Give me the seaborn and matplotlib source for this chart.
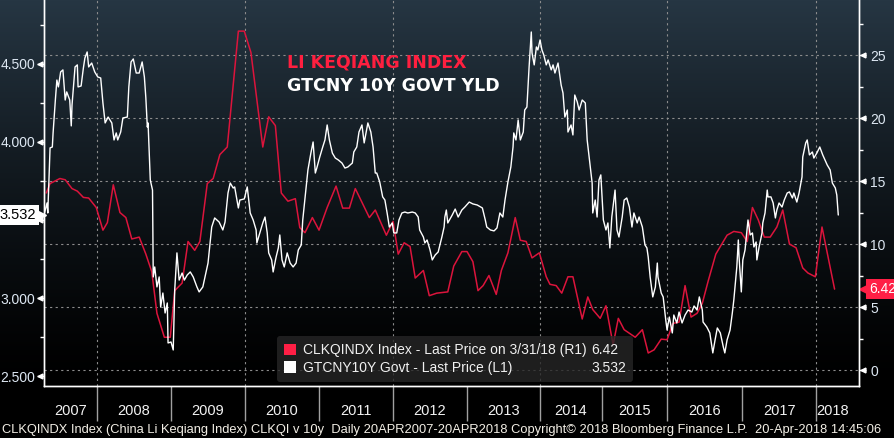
import numpy as np
import pandas as pd
import seaborn as sns
import matplotlib.pyplot as plt
from matplotlib import transforms
from matplotlib.patches import Patch

sns.set_theme(style="ticks")
plt.rcParams["font.family"] = ["Liberation Sans", "DejaVu Sans"]

RED = "#dc143c"
RED_TAG = "#ff1f45"
TICK_TXT = "#dde7f2"

# --------------------------------------
# data
# --------------------------------------

# Li Keqiang index (monthly, right axis)
red_years = [
    2007.33, 2007.38, 2007.51, 2007.58, 2007.67, 2007.74, 2007.82, 2007.89, 2007.99, 2008.08,
    2008.14, 2008.22, 2008.31, 2008.39, 2008.47, 2008.57, 2008.66, 2008.74, 2008.81, 2008.91,
    2008.99, 2009.05, 2009.15, 2009.23, 2009.32, 2009.39, 2009.49, 2009.57, 2009.66, 2009.76,
    2009.91, 2009.99, 2010.08, 2010.24, 2010.32, 2010.41, 2010.49, 2010.58, 2010.68, 2010.74,
    2010.81, 2010.91, 2011.00, 2011.11, 2011.23, 2011.32, 2011.41, 2011.49, 2011.68, 2011.76,
    2011.91, 2012.00, 2012.07, 2012.15, 2012.23, 2012.30, 2012.41, 2012.49, 2012.59, 2012.74,
    2012.82, 2012.93, 2013.00, 2013.08, 2013.15, 2013.22, 2013.30, 2013.40, 2013.47, 2013.56,
    2013.66, 2013.73, 2013.81, 2013.89, 2013.99, 2014.10, 2014.16, 2014.26, 2014.35, 2014.45,
    2014.53, 2014.68, 2014.77, 2014.85, 2014.97, 2015.06, 2015.17, 2015.25, 2015.34, 2015.51,
    2015.62, 2015.71, 2015.80, 2015.91, 2016.00, 2016.08, 2016.16, 2016.24, 2016.32, 2016.40,
    2016.47, 2016.55, 2016.65, 2016.80, 2016.89, 2016.99, 2017.07, 2017.14, 2017.22, 2017.30,
    2017.38, 2017.47, 2017.55, 2017.64, 2017.73, 2017.82, 2017.89, 2017.99, 2018.08, 2018.25,
]
red_values = [
    14.05, 14.8, 15.2, 15.1, 14.4, 14.2, 13.7, 13.65, 12.9, 11.1,
    11.7, 14.7, 12.5, 12.1, 10.4, 10.55, 9.2, 7.8, 4.5, 2.6,
    2.6, 6.3, 6.9, 10.2, 9.5, 10.2, 14.8, 15.2, 17.1, 17.7,
    26.9, 26.9, 25.2, 17.7, 20.1, 19.4, 14.05, 13.4, 13.6, 11.3,
    10.9, 12.1, 11.1, 12.9, 14.6, 12.85, 12.85, 14.4, 12.1, 12.7,
    10.7, 11.8, 9.2, 10.1, 9.8, 7.3, 7.9, 5.9, 6.1, 6.2,
    8.25, 9.4, 9.4, 8.6, 6.3, 6.7, 7.5, 6.0, 7.9, 9.3,
    12.1, 10.3, 10.2, 8.9, 9.3, 7.4, 6.8, 6.7, 6.1, 7.4,
    7.4, 4.05, 5.8, 4.8, 4.1, 5.1, 2.0, 4.1, 3.2, 2.6,
    3.2, 1.35, 1.6, 2.45, 2.4, 3.7, 3.8, 6.7, 4.2, 4.5,
    5.3, 7.1, 9.2, 10.7, 11.0, 10.9, 10.2, 12.9, 11.9, 10.55,
    10.55, 11.35, 12.7, 10.0, 9.7, 8.1, 7.7, 7.4, 11.35, 6.42,
]

# China 10y govt yield (left axis)
white_years = [
    2007.30, 2007.34, 2007.35, 2007.38, 2007.41, 2007.42, 2007.45, 2007.47, 2007.49, 2007.52,
    2007.55, 2007.58, 2007.60, 2007.64, 2007.66, 2007.67, 2007.71, 2007.74, 2007.75, 2007.79,
    2007.82, 2007.84, 2007.87, 2007.89, 2007.93, 2007.97, 2008.01, 2008.05, 2008.08, 2008.11,
    2008.15, 2008.20, 2008.23, 2008.26, 2008.28, 2008.32, 2008.35, 2008.41, 2008.43, 2008.46,
    2008.49, 2008.53, 2008.57, 2008.61, 2008.64, 2008.66, 2008.68, 2008.69, 2008.72, 2008.75,
    2008.76, 2008.78, 2008.81, 2008.84, 2008.86, 2008.89, 2008.92, 2008.95, 2008.96, 2009.00,
    2009.03, 2009.05, 2009.08, 2009.11, 2009.15, 2009.18, 2009.22, 2009.26, 2009.30, 2009.35,
    2009.38, 2009.43, 2009.47, 2009.50, 2009.55, 2009.59, 2009.65, 2009.70, 2009.73, 2009.77,
    2009.80, 2009.84, 2009.86, 2009.91, 2009.93, 2009.99, 2010.03, 2010.07, 2010.11, 2010.15,
    2010.16, 2010.20, 2010.24, 2010.27, 2010.30, 2010.32, 2010.36, 2010.38, 2010.42, 2010.45,
    2010.47, 2010.50, 2010.53, 2010.57, 2010.61, 2010.65, 2010.69, 2010.72, 2010.76, 2010.78,
    2010.82, 2010.85, 2010.89, 2010.92, 2010.95, 2010.97, 2011.01, 2011.05, 2011.08, 2011.11,
    2011.14, 2011.18, 2011.22, 2011.26, 2011.31, 2011.35, 2011.39, 2011.45, 2011.47, 2011.51,
    2011.54, 2011.58, 2011.61, 2011.65, 2011.66, 2011.70, 2011.73, 2011.76, 2011.78, 2011.82,
    2011.86, 2011.89, 2011.92, 2011.95, 2011.99, 2012.01, 2012.05, 2012.08, 2012.12, 2012.16,
    2012.20, 2012.26, 2012.30, 2012.34, 2012.36, 2012.41, 2012.43, 2012.46, 2012.50, 2012.53,
    2012.57, 2012.61, 2012.66, 2012.69, 2012.70, 2012.72, 2012.74, 2012.80, 2012.84, 2012.88,
    2012.93, 2012.97, 2013.03, 2013.08, 2013.14, 2013.21, 2013.25, 2013.27, 2013.32, 2013.37,
    2013.41, 2013.45, 2013.49, 2013.52, 2013.56, 2013.60, 2013.63, 2013.64, 2013.67, 2013.70,
    2013.73, 2013.77, 2013.79, 2013.82, 2013.85, 2013.88, 2013.89, 2013.92, 2013.95, 2013.97,
    2014.00, 2014.03, 2014.06, 2014.10, 2014.13, 2014.18, 2014.21, 2014.24, 2014.29, 2014.34,
    2014.37, 2014.40, 2014.44, 2014.45, 2014.50, 2014.53, 2014.56, 2014.60, 2014.63, 2014.68,
    2014.73, 2014.76, 2014.81, 2014.84, 2014.85, 2014.89, 2014.92, 2014.95, 2014.98, 2015.02,
    2015.06, 2015.09, 2015.12, 2015.15, 2015.20, 2015.23, 2015.26, 2015.31, 2015.34, 2015.38,
    2015.42, 2015.46, 2015.49, 2015.54, 2015.57, 2015.62, 2015.66, 2015.68, 2015.69, 2015.71,
    2015.74, 2015.78, 2015.82, 2015.85, 2015.86, 2015.91, 2015.94, 2015.98, 2016.00, 2016.03,
    2016.07, 2016.09, 2016.13, 2016.16, 2016.20, 2016.24, 2016.28, 2016.33, 2016.36, 2016.40,
    2016.43, 2016.47, 2016.48, 2016.53, 2016.57, 2016.61, 2016.64, 2016.67, 2016.71, 2016.75,
    2016.77, 2016.80, 2016.84, 2016.87, 2016.89, 2016.91, 2016.93, 2016.95, 2016.96, 2016.99,
    2017.01, 2017.04, 2017.07, 2017.08, 2017.11, 2017.14, 2017.16, 2017.19, 2017.20, 2017.23,
    2017.27, 2017.28, 2017.31, 2017.34, 2017.35, 2017.39, 2017.42, 2017.45, 2017.47, 2017.50,
    2017.54, 2017.57, 2017.61, 2017.64, 2017.68, 2017.70, 2017.74, 2017.77, 2017.81, 2017.82,
    2017.86, 2017.88, 2017.91, 2017.95, 2017.97, 2018.01, 2018.05, 2018.09, 2018.12, 2018.15,
    2018.19, 2018.22, 2018.26, 2018.28, 2018.30,
]
white_yield = [
    3.532, 3.609, 3.545, 3.962, 3.968, 4.058, 4.269, 4.397, 4.353, 4.449,
    4.462, 4.269, 4.321, 4.269, 4.103, 4.237, 4.481, 4.494, 4.353, 4.359,
    4.474, 4.538, 4.577, 4.481, 4.506, 4.449, 4.417, 4.410, 4.250, 4.122,
    4.160, 4.122, 4.013, 4.058, 4.013, 4.064, 4.154, 4.160, 4.353, 4.513,
    4.532, 4.442, 4.442, 4.513, 4.417, 4.282, 4.096, 4.122, 3.756, 3.692,
    3.135, 3.199, 3.071, 3.135, 2.942, 3.032, 2.904, 2.968, 2.712, 2.718,
    2.667, 3.051, 3.289, 3.115, 3.160, 3.115, 3.148, 3.167, 3.135, 3.071,
    3.039, 3.071, 3.160, 3.224, 3.455, 3.513, 3.487, 3.436, 3.487, 3.673,
    3.737, 3.705, 3.712, 3.577, 3.628, 3.635, 3.712, 3.545, 3.500, 3.436,
    3.353, 3.417, 3.481, 3.519, 3.417, 3.289, 3.244, 3.167, 3.263, 3.321,
    3.404, 3.244, 3.199, 3.289, 3.224, 3.199, 3.224, 3.308, 3.340, 3.500,
    3.680, 3.821, 3.929, 4.000, 3.801, 3.833, 3.904, 3.968, 4.013, 4.109,
    4.013, 3.929, 3.897, 3.885, 3.865, 3.833, 3.840, 3.865, 3.936, 3.968,
    4.064, 4.109, 3.994, 4.096, 4.122, 4.064, 3.968, 3.801, 3.801, 3.744,
    3.648, 3.628, 3.545, 3.455, 3.481, 3.417, 3.417, 3.500, 3.545, 3.551,
    3.545, 3.551, 3.545, 3.519, 3.436, 3.391, 3.353, 3.372, 3.308, 3.244,
    3.276, 3.295, 3.391, 3.455, 3.519, 3.564, 3.481, 3.532, 3.570, 3.519,
    3.564, 3.583, 3.615, 3.603, 3.596, 3.577, 3.500, 3.455, 3.436, 3.430,
    3.449, 3.545, 3.519, 3.628, 3.744, 3.840, 3.968, 4.058, 4.013, 4.141,
    4.013, 4.064, 4.205, 4.224, 4.481, 4.705, 4.571, 4.494, 4.609, 4.590,
    4.654, 4.590, 4.558, 4.494, 4.526, 4.462, 4.494, 4.442, 4.506, 4.365,
    4.314, 4.160, 4.205, 4.064, 4.109, 4.045, 4.301, 4.257, 4.205, 4.269,
    4.250, 4.013, 3.840, 3.737, 3.545, 3.628, 3.519, 3.756, 3.789, 3.500,
    3.436, 3.481, 3.321, 3.519, 3.692, 3.436, 3.391, 3.519, 3.628, 3.641,
    3.583, 3.455, 3.545, 3.481, 3.519, 3.455, 3.340, 3.327, 3.321, 3.263,
    3.135, 3.007, 3.071, 3.224, 3.135, 3.032, 3.007, 2.859, 2.795, 2.878,
    2.776, 2.891, 2.840, 2.910, 2.840, 2.891, 2.923, 2.910, 2.949, 2.923,
    3.007, 2.923, 2.846, 2.814, 2.776, 2.648, 2.731, 2.808, 2.776, 2.686,
    2.648, 2.731, 2.795, 2.904, 2.987, 3.096, 3.199, 3.372, 3.263, 3.039,
    3.244, 3.308, 3.455, 3.500, 3.404, 3.417, 3.327, 3.359, 3.244, 3.327,
    3.417, 3.481, 3.545, 3.692, 3.648, 3.648, 3.609, 3.513, 3.564, 3.609,
    3.583, 3.628, 3.673, 3.680, 3.641, 3.673, 3.615, 3.673, 3.776, 3.904,
    3.994, 4.013, 3.917, 3.936, 3.897, 3.929, 3.968, 3.917, 3.885, 3.853,
    3.821, 3.737, 3.705, 3.660, 3.532,
]

year_labels = [str(y) for y in range(2007, 2019)]
year_label_pos = [2007.65] + [y + 0.5 for y in range(2008, 2018)] + [2018.22]
year_bounds = list(range(2008, 2019))

# Bloomberg's time axis is not perfectly even (2014/15 are squeezed)
knot_years = [2000, 2007.3, 2008, 2009, 2010, 2011, 2012, 2013, 2014, 2015, 2016, 2017, 2018, 2030]
knot_pos = [-509, 44, 97, 171, 245, 319, 393, 467, 540, 602, 667, 742, 816, 1704]


def to_axis(x):
    return np.interp(x, knot_years, knot_pos)


def from_axis(p):
    return np.interp(p, knot_pos, knot_years)


red_df = pd.DataFrame({"year": red_years, "value": red_values})
white_df = pd.DataFrame({"year": white_years, "value": white_yield})

# --------------------------------------
# figure + gradient background
# --------------------------------------
fig = plt.figure(figsize=(8.95, 4.38), dpi=100, facecolor="black")

bg = fig.add_axes([0, 0, 1, 1], zorder=-10)
bg.set_axis_off()
rows = np.linspace(0, 1, 438)[:, None]
fade = np.clip(1 - rows / (386 / 438), 0, 1) ** 1.3
top_col = np.array([38, 54, 67]) / 255
bg.imshow(fade[..., None] * top_col, aspect="auto", extent=[0, 1, 0, 1])

ax = fig.add_axes([44 / 895, 52 / 438, 815 / 895, 386 / 438])
ax.set_facecolor("none")
ax.set_xscale("function", functions=(to_axis, from_axis))

sns.lineplot(data=red_df, x="year", y="value", ax=ax, color=RED, lw=1.1, estimator=None)

ax_w = ax.twinx()
sns.lineplot(data=white_df, x="year", y="value", ax=ax_w, color="white", lw=1.0, estimator=None)

ax.set_xlim(2007.30, 2018.58)
ax.set_ylim(-1.27, 29.37)
ax_w.set_ylim(2.436, 4.910)
for a in (ax, ax_w):
    a.set_xlabel("")
    a.set_ylabel("")
    a.spines["top"].set_visible(False)
    for s in ("left", "right", "bottom"):
        a.spines[s].set_color("white")
        a.spines[s].set_linewidth(1)

# right axis = index
ax.yaxis.tick_right()
ax.set_yticks(range(0, 30, 5))
ax.set_yticks(np.arange(2.5, 29, 5), minor=True)
ax.tick_params(axis="y", which="major", length=5, width=1, color="white", pad=3,
               labelsize=10, labelcolor=TICK_TXT, right=True, left=False)
ax.tick_params(axis="y", which="minor", length=3, width=1, color="white", right=True, left=False)

# left axis = yield
ax_w.yaxis.tick_left()
ax_w.set_yticks(np.arange(2.5, 4.51, 0.5))
ax_w.set_yticklabels([f"{v:.3f}" for v in np.arange(2.5, 4.51, 0.5)])
ax_w.set_yticks(np.arange(2.75, 4.8, 0.5), minor=True)
ax_w.tick_params(axis="y", which="major", length=5, width=1, color="white", pad=1.5,
                 labelsize=10, labelcolor=TICK_TXT, left=True, right=False)
ax_w.tick_params(axis="y", which="minor", length=3, width=1, color="white", left=True, right=False)

# little arrow heads on the major ticks
tl = transforms.blended_transform_factory(ax_w.transAxes, ax_w.transData)
tr = transforms.blended_transform_factory(ax.transAxes, ax.transData)
ax_w.plot([-0.005] * 5, np.arange(2.5, 4.51, 0.5), ls="none", marker="<", ms=3.5,
          color="white", transform=tl, clip_on=False)
ax.plot([1.005] * 6, range(0, 30, 5), ls="none", marker="<", ms=3.5,
        color="white", transform=tr, clip_on=False)

# x axis: long year separators, labels centred in each year
ax.set_xticks(year_bounds)
ax.set_xticklabels([])
ax.set_xticks(year_label_pos, labels=year_labels, minor=True)
ax.tick_params(axis="x", which="major", length=25.5, width=1, color="#a0a0a0", bottom=True)
ax.tick_params(axis="x", which="minor", length=0, pad=13, labelsize=10.5,
               labelcolor="#f2f2f2", bottom=True)

# dotted grid
ax.set_axisbelow(True)
ax.grid(True, axis="y", which="major", color="#8c8c8c", ls=(0, (2, 3)), lw=0.8)
ax.grid(False, axis="x")
for y in range(2008, 2019, 2):
    ax.axvline(y, color="#8c8c8c", ls=(0, (2, 3)), lw=0.8, zorder=0.5)

# last value tags
ax_w.text(-0.0095, white_yield[-1], f"{white_yield[-1]:.3f}", transform=tl, ha="right",
          va="center", fontsize=10.5, color="black", zorder=10, clip_on=False,
          bbox=dict(boxstyle="square,pad=0.2", fc="white", ec="none"))
ax_w.plot([-0.004], [white_yield[-1]], marker=">", ms=7, color="white", transform=tl,
          clip_on=False, zorder=10)
ax.text(1.0125, red_values[-1], f"{red_values[-1]:.2f}", transform=tr, ha="left",
        va="center", fontsize=10, color="white", zorder=10, clip_on=False,
        bbox=dict(boxstyle="square,pad=0.2", fc=RED_TAG, ec="none"))
ax.plot([1.0060], [red_values[-1]], marker="<", ms=7, color=RED_TAG, transform=tr,
        clip_on=False, zorder=10)

# legend
handles = [Patch(fc=RED_TAG, ec="none"), Patch(fc="white", ec="none"),
           Patch(fc="none", ec="none"), Patch(fc="none", ec="none")]
labels = ["CLKQINDX Index - Last Price on 3/31/18 (R1)", "GTCNY10Y Govt - Last Price (L1)",
          f"{red_values[-1]:.2f}", f"{white_yield[-1]:.3f}"]
leg = ax_w.legend(handles, labels, ncol=2, loc="lower left", bbox_to_anchor=(0.286, 0.011),
                  borderaxespad=0, fontsize=10, labelcolor="#f0f0f0", frameon=True,
                  facecolor="#262626", edgecolor="none", framealpha=0.8, fancybox=True,
                  handlelength=0.85, handleheight=0.85, handletextpad=0.5,
                  columnspacing=-1.0, labelspacing=0.25, borderpad=0.5)

# chart titles
fig.text(287 / 895, 1 - 63 / 438, "LI KEQIANG INDEX", color="#ff1f3f", fontsize=12.5,
         fontweight="bold", family="DejaVu Sans", va="center")
fig.text(287 / 895, 1 - 86 / 438, "GTCNY 10Y GOVT YLD", color="white", fontsize=12.5,
         fontweight="bold", family="DejaVu Sans", va="center")

# footer
fig.text(2 / 895, 1 - 430 / 438,
         "CLKQINDX Index (China Li Keqiang Index) CLKQI v 10y  Daily 20APR2007-20APR2018 "
         "Copyright\u00a9 2018 Bloomberg Finance L.P.  20-Apr-2018 14:45:06",
         color="#f3efe6", fontsize=9.3, va="center")

plt.savefig("out.png", dpi=100, facecolor="black")
plt.close()
